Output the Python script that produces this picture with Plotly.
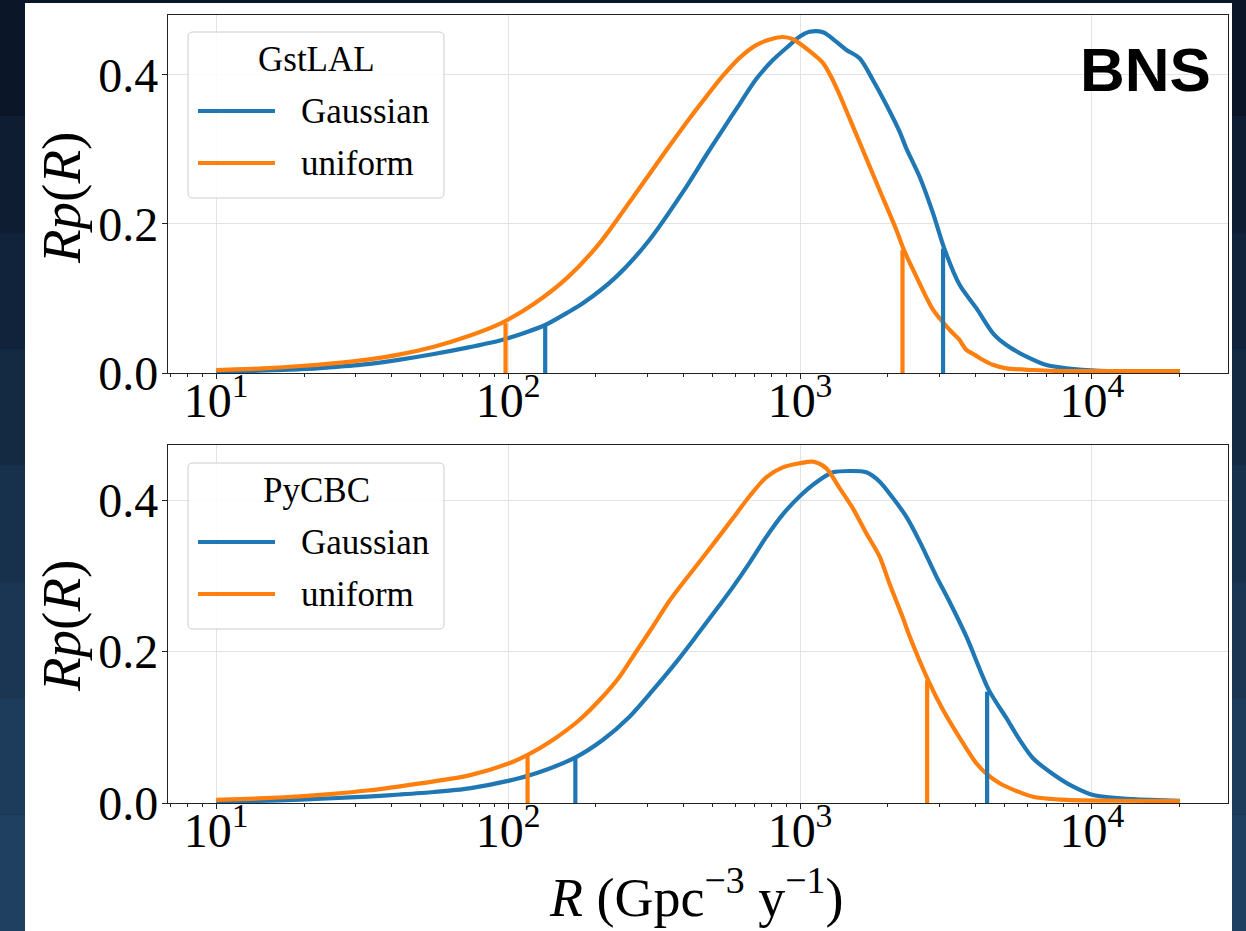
import plotly.graph_objects as go

# ---------------- data ----------------
# log10(R) sample positions and Rp(R) values
GST_GAUSS_LOGR = [1.000, 1.145, 1.289, 1.400, 1.518, 1.630, 1.746, 1.860, 1.975, 2.050, 2.127, 2.203,
                  2.256, 2.370, 2.484, 2.599, 2.679, 2.736, 2.793, 2.850, 2.907, 2.964, 2.998, 3.033,
                  3.079, 3.124, 3.159, 3.204, 3.250, 3.296, 3.341, 3.364, 3.410, 3.456, 3.496, 3.547,
                  3.604, 3.661, 3.707, 3.776, 3.844, 3.913, 4.027, 4.301]
GST_GAUSS_VAL = [0.0017, 0.003, 0.005, 0.008, 0.012, 0.018, 0.0255, 0.034, 0.044, 0.053, 0.0644, 0.081,
                 0.0935, 0.129, 0.1785, 0.243, 0.2926, 0.327, 0.361, 0.3945, 0.420, 0.440, 0.4514, 0.458,
                 0.4573, 0.4447, 0.4336, 0.4224, 0.393, 0.3597, 0.324, 0.3016, 0.2630, 0.214, 0.165, 0.118,
                 0.087, 0.0533, 0.0376, 0.0219, 0.0107, 0.0063, 0.003, 0.0025]

GST_UNIF_LOGR = [1.000, 1.145, 1.289, 1.400, 1.518, 1.630, 1.746, 1.860, 1.975, 2.089, 2.203, 2.313,
                 2.426, 2.542, 2.622, 2.679, 2.736, 2.793, 2.850, 2.900, 2.941, 2.976, 3.033, 3.079,
                 3.106, 3.136, 3.164, 3.193, 3.227, 3.273, 3.330, 3.356, 3.399, 3.456, 3.513, 3.545,
                 3.570, 3.600, 3.627, 3.660, 3.707, 3.798, 3.913, 4.050, 4.301]
GST_UNIF_VAL = [0.004, 0.006, 0.0094, 0.013, 0.018, 0.025, 0.0353, 0.049, 0.0667, 0.093, 0.128, 0.174,
                0.235, 0.299, 0.342, 0.371, 0.399, 0.423, 0.440, 0.448, 0.451, 0.448, 0.432, 0.416,
                0.398, 0.373, 0.347, 0.320, 0.288, 0.245, 0.192, 0.165, 0.129, 0.0846, 0.0577, 0.045,
                0.031, 0.024, 0.0174, 0.011, 0.0063, 0.004, 0.0025, 0.0025, 0.0025]

PY_GAUSS_LOGR = [1.000, 1.145, 1.289, 1.400, 1.518, 1.630, 1.746, 1.867, 2.004, 2.096, 2.231, 2.324,
                 2.416, 2.496, 2.576, 2.644, 2.724, 2.770, 2.827, 2.884, 2.941, 2.999, 3.056, 3.113,
                 3.170, 3.227, 3.273, 3.319, 3.364, 3.410, 3.467, 3.513, 3.570, 3.647, 3.707, 3.753,
                 3.798, 3.867, 3.936, 4.004, 4.141, 4.301]
PY_GAUSS_VAL = [0.0017, 0.0028, 0.0045, 0.0063, 0.0085, 0.0112, 0.0145, 0.0194, 0.0295, 0.0392, 0.0603, 0.0832,
                0.114, 0.149, 0.186, 0.220, 0.261, 0.285, 0.317, 0.351, 0.381, 0.405, 0.4235, 0.4365,
                0.4383, 0.4366, 0.4242, 0.4022, 0.378, 0.345, 0.2990, 0.265, 0.2195, 0.149, 0.112, 0.083,
                0.0590, 0.038, 0.0215, 0.0106, 0.005, 0.003]

PY_UNIF_LOGR = [1.000, 1.145, 1.289, 1.400, 1.518, 1.630, 1.746, 1.867, 2.004, 2.067, 2.153, 2.244,
                2.324, 2.382, 2.439, 2.496, 2.553, 2.610, 2.667, 2.713, 2.770, 2.827, 2.884, 2.941,
                2.999, 3.044, 3.090, 3.136, 3.181, 3.227, 3.273, 3.307, 3.353, 3.376, 3.439, 3.490,
                3.547, 3.604, 3.640, 3.684, 3.740, 3.798, 3.913, 4.100, 4.301]
PY_UNIF_VAL = [0.004, 0.006, 0.0088, 0.012, 0.0165, 0.022, 0.0285, 0.0365, 0.0524, 0.0634, 0.0832, 0.1096,
               0.1403, 0.1667, 0.200, 0.233, 0.267, 0.296, 0.324, 0.347, 0.376, 0.405, 0.430, 0.443,
               0.4485, 0.4506, 0.4418, 0.4154, 0.389, 0.3560, 0.325, 0.2890, 0.2438, 0.2195, 0.162, 0.1228,
               0.0860, 0.0524, 0.038, 0.026, 0.016, 0.0083, 0.004, 0.003, 0.0025]

# 90% interval bounds (R) and the heights of their markers
GST_GAUSS_CI = [134, 3090]
GST_GAUSS_CI_H = [0.064, 0.167]
GST_UNIF_CI = [98, 2244]
GST_UNIF_CI_H = [0.067, 0.165]
PY_GAUSS_CI = [170, 4374]
PY_GAUSS_CI_H = [0.0603, 0.147]
PY_UNIF_CI = [116.6, 2725]
PY_UNIF_CI_H = [0.0634, 0.162]

X_TICKS = [10, 100, 1000, 10000]
X_TICKTEXT = ["10<sup>1</sup>", "10<sup>2</sup>", "10<sup>3</sup>", "10<sup>4</sup>"]
X_MINOR = [7, 8, 9] + [m * 10 ** e for e in range(1, 4) for m in range(2, 10)] + [20000]
Y_TICKS = [0.0, 0.2, 0.4]
Y_TICKTEXT = ["0.0", "0.2", "0.4"]

SERIES_NAMES = ["Gaussian", "uniform"]
PANEL_TITLES = ["GstLAL", "PyCBC"]

# ---------------- styling ----------------
W, H = 1246, 931
L, R_, T, B = 168, 18, 15, 128
BLUE = "#1f77b4"
ORANGE = "#ff7f0e"
SERIF = "Liberation Serif"
AXC = "#222222"
LW = 4.2


def px(x):
    return (x - L) / (W - L - R_)


def py(y):
    return (H - B - y) / (H - T - B)


def tolin(v):
    return [10 ** a for a in v]


def ci_xy(bounds, heights):
    xs, ys = [], []
    for b, h in zip(bounds, heights):
        xs += [b, b, None]
        ys += [0, h, None]
    return xs, ys


fig = go.Figure()

panels = [
    ("x", "y", GST_GAUSS_LOGR, GST_GAUSS_VAL, GST_UNIF_LOGR, GST_UNIF_VAL,
     GST_GAUSS_CI, GST_GAUSS_CI_H, GST_UNIF_CI, GST_UNIF_CI_H),
    ("x2", "y2", PY_GAUSS_LOGR, PY_GAUSS_VAL, PY_UNIF_LOGR, PY_UNIF_VAL,
     PY_GAUSS_CI, PY_GAUSS_CI_H, PY_UNIF_CI, PY_UNIF_CI_H),
]
for xa, ya, gl, gv, ul, uv, gci, gh, uci, uh in panels:
    fig.add_trace(go.Scatter(x=tolin(gl), y=gv, xaxis=xa, yaxis=ya, mode="lines",
                             line=dict(color=BLUE, width=LW, shape="spline", smoothing=0.8),
                             showlegend=False, hoverinfo="skip"))
    fig.add_trace(go.Scatter(x=tolin(ul), y=uv, xaxis=xa, yaxis=ya, mode="lines",
                             line=dict(color=ORANGE, width=LW, shape="spline", smoothing=0.8),
                             showlegend=False, hoverinfo="skip"))
    cx, cy = ci_xy(gci, gh)
    fig.add_trace(go.Scatter(x=cx, y=cy, xaxis=xa, yaxis=ya, mode="lines",
                             line=dict(color=BLUE, width=LW), showlegend=False, hoverinfo="skip"))
    cx, cy = ci_xy(uci, uh)
    fig.add_trace(go.Scatter(x=cx, y=cy, xaxis=xa, yaxis=ya, mode="lines",
                             line=dict(color=ORANGE, width=LW), showlegend=False, hoverinfo="skip"))

xrange = [0.835, 4.466]
top_dom = [py(373), 1.0]
bot_dom = [0.0, py(445)]

xcommon = dict(type="log", range=xrange, tickmode="array", tickvals=X_TICKS, ticktext=X_TICKTEXT,
               ticks="outside", ticklen=5, tickwidth=1, tickcolor=AXC, ticklabelstandoff=-20,
               showline=True, linecolor=AXC, linewidth=1.2, mirror=True,
               showgrid=True, gridcolor="#e3e3e3", gridwidth=1, zeroline=False,
               tickfont=dict(family=SERIF, size=48, color="black"),
               minor=dict(tickmode="array", tickvals=X_MINOR, ticks="outside", ticklen=3,
                          tickwidth=1, tickcolor=AXC, showgrid=False))
ycommon = dict(tickmode="array", tickvals=Y_TICKS, ticktext=Y_TICKTEXT,
               ticks="outside", ticklen=5, tickwidth=1, tickcolor=AXC, ticklabelstandoff=-6,
               showline=True, linecolor=AXC, linewidth=1.2, mirror=True,
               showgrid=True, gridcolor="#e3e3e3", gridwidth=1, zeroline=False,
               tickfont=dict(family=SERIF, size=48, color="black"))

fig.update_layout(
    width=W, height=H, autosize=False,
    margin=dict(l=L, r=R_, t=T, b=B, pad=0),
    paper_bgcolor="#132a45", plot_bgcolor="white",
    showlegend=False,
    xaxis=dict(**xcommon, domain=[0, 1], anchor="y"),
    yaxis=dict(**ycommon, domain=top_dom, anchor="x", range=[0, 0.4805]),
    xaxis2=dict(**xcommon, domain=[0, 1], anchor="y2"),
    yaxis2=dict(**ycommon, domain=bot_dom, anchor="x2", range=[0, 0.4726]),
)

shapes = []
# background strips (dark image frame) drawn as gradient bands
bands = ["#0b1728", "#0e1d31", "#11233a", "#142a43", "#17304b", "#1a3653", "#1d3b5a", "#1f4061"]
nb = len(bands)
for i, c in enumerate(bands):
    y0p = i * H / nb
    y1p = (i + 1) * H / nb
    shapes.append(dict(type="rect", xref="paper", yref="paper", layer="below",
                       x0=px(0), x1=px(W), y0=py(y1p), y1=py(y0p),
                       fillcolor=c, line=dict(width=0)))
# white panel
shapes.append(dict(type="rect", xref="paper", yref="paper", layer="below",
                   x0=px(25), x1=px(1232), y0=py(931), y1=py(3),
                   fillcolor="white", line=dict(width=0)))


def rounded_rect(x0, y0, x1, y1, r=5):
    return (f"M {px(x0 + r)},{py(y0)} L {px(x1 - r)},{py(y0)} "
            f"Q {px(x1)},{py(y0)} {px(x1)},{py(y0 + r)} L {px(x1)},{py(y1 - r)} "
            f"Q {px(x1)},{py(y1)} {px(x1 - r)},{py(y1)} L {px(x0 + r)},{py(y1)} "
            f"Q {px(x0)},{py(y1)} {px(x0)},{py(y1 - r)} L {px(x0)},{py(y0 + r)} "
            f"Q {px(x0)},{py(y0)} {px(x0 + r)},{py(y0)} Z")


annotations = []
for top, title in zip([32, 463], PANEL_TITLES):
    shapes.append(dict(type="path", xref="paper", yref="paper", layer="above",
                       path=rounded_rect(188, top, 444, top + 166),
                       fillcolor="rgba(255,255,255,0.85)", line=dict(color="#cccccc", width=1)))
    annotations.append(dict(text=title, x=px(316), y=py(top + 28), xref="paper", yref="paper",
                            xanchor="center", yanchor="middle", showarrow=False,
                            font=dict(family=SERIF, size=35, color="black")))
    for off, col, name in zip([79, 131], [BLUE, ORANGE], SERIES_NAMES):
        shapes.append(dict(type="line", xref="paper", yref="paper", layer="above",
                           x0=px(198), x1=px(275), y0=py(top + off), y1=py(top + off),
                           line=dict(color=col, width=LW)))
        annotations.append(dict(text=name, x=px(299), y=py(top + off), xref="paper", yref="paper",
                                xanchor="left", yanchor="middle", showarrow=False,
                                font=dict(family=SERIF, size=35, color="black")))

# axis labels
for yc in [198, 626]:
    annotations.append(dict(text="<i>Rp</i>(<i>R</i>)", x=px(61), y=py(yc), xref="paper", yref="paper",
                            xanchor="center", yanchor="middle", textangle=-90, showarrow=False,
                            font=dict(family=SERIF, size=55, color="black")))
annotations.append(dict(text="<i>R</i> (Gpc<sup>\u22123</sup> y<sup>\u22121</sup>)", x=px(696), y=py(893),
                        xref="paper", yref="paper", xanchor="center", yanchor="middle", showarrow=False,
                        font=dict(family=SERIF, size=54, color="black")))
annotations.append(dict(text="<b>BNS</b>", x=px(1213), y=py(70), xref="paper", yref="paper",
                        xanchor="right", yanchor="middle", showarrow=False,
                        font=dict(family="Liberation Sans", size=62, color="black")))

fig.update_layout(shapes=shapes, annotations=annotations)
fig.write_html("out.html")
